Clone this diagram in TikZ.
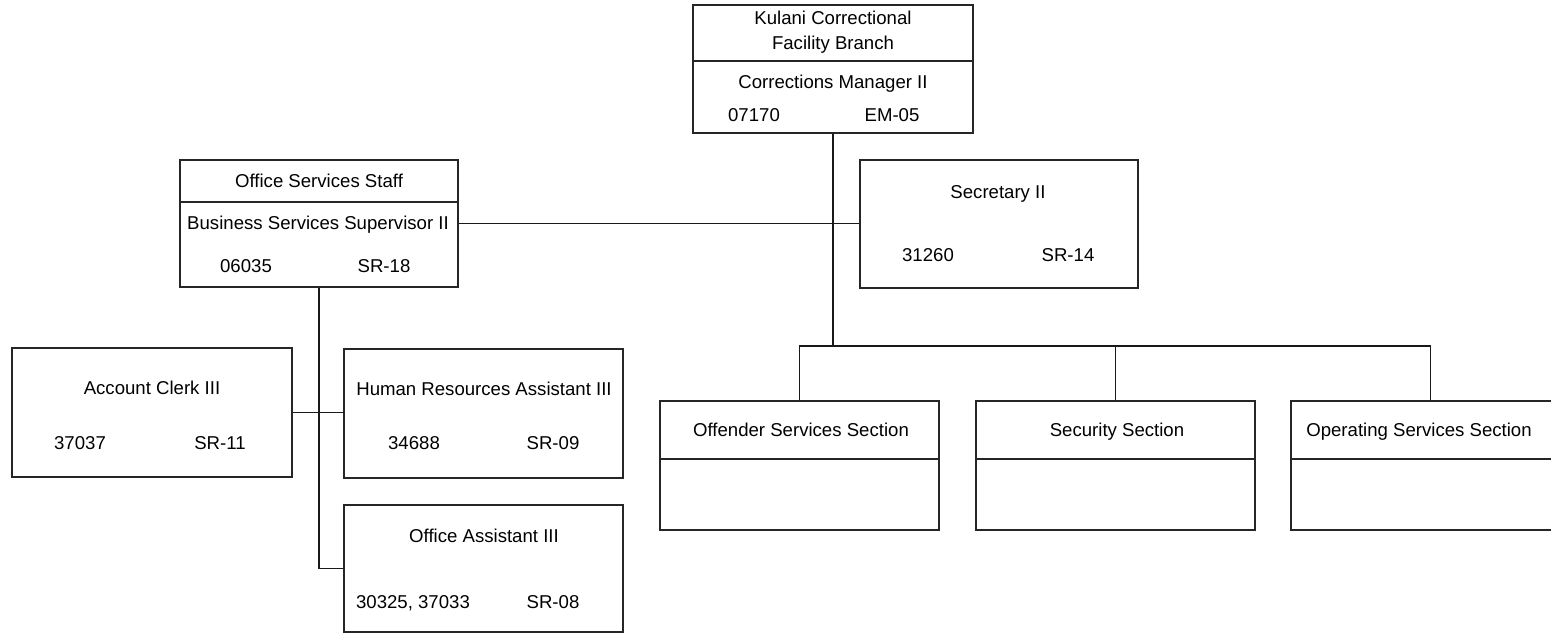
\documentclass[tikz,border=0pt]{standalone}
\usepackage{fontspec}
\setmainfont{Liberation Sans}
\begin{document}
\begin{tikzpicture}[x=1pt,y=-1pt,
  box/.style={draw=black!85, line width=1.8pt, rectangle, inner sep=0pt, minimum width=279pt, minimum height=128pt},
  divider/.style={draw=black!85, line width=2.8pt},
  link/.style={draw=black!90, line width=1.8pt},
  lbl/.style={inner sep=0pt, text height=13.2pt, text depth=3.9pt, font=\fontsize{18.6}{22}\selectfont, text=black}]
\path[use as bounding box, clip] (0,0) rectangle (1551,634);
\fill[white] (0,0) rectangle (1551,634);
% boxes
\node[box, minimum width=280pt] (top) at (833,69) {};
\node[box, minimum width=278pt, minimum height=127pt] (office) at (319,223.5) {};
\node[box, minimum width=278pt] (sec) at (999,224) {};
\node[box, minimum width=280pt, minimum height=129pt] (acct) at (152,412.5) {};
\node[box, minimum height=129pt] (hr) at (483.5,413.5) {};
\node[box, minimum height=127pt] (oa) at (483.5,568.5) {};
\node[box, minimum height=129pt] (off) at (799.5,465.5) {};
\node[box, minimum height=129pt] (secu) at (1115.5,465.5) {};
\node[box, minimum height=129pt] (oper) at (1430.5,465.5) {};
% dividers
\draw[divider] (top.west |- 0,61) -- (top.east |- 0,61);
\draw[divider] (office.west |- 0,202) -- (office.east |- 0,202);
\foreach \b in {off,secu,oper} \draw[divider] (\b.west |- 0,459) -- (\b.east |- 0,459);
% texts
\node[lbl] (t1) at (833,20) {Kulani Correctional};
\node[lbl] (t2) at (833,45) {Facility Branch};
\node[lbl] (t3) at (833,84) {Corrections Manager II};
\node[lbl] (t4) at (754,117) {07170};
\node[lbl] (t5) at (892,117) {EM-05};
\node[lbl] (o1) at (319,183) {Office Services Staff};
\node[lbl] (o2) at (318,225) {Business Services Supervisor II};
\node[lbl] (o3) at (246,268) {06035};
\node[lbl] (o4) at (384,268) {SR-18};
\node[lbl] (s1) at (998,194) {Secretary II};
\node[lbl] (s2) at (928,257) {31260};
\node[lbl] (s3) at (1068,257) {SR-14};
\node[lbl] (a1) at (152,390) {Account Clerk III};
\node[lbl] (a2) at (80,445) {37037};
\node[lbl] (a3) at (220,445) {SR-11};
\node[lbl] (h1) at (484,391) {Human Resources Assistant III};
\node[lbl] (h2) at (414,445) {34688};
\node[lbl] (h3) at (553,445) {SR-09};
\node[lbl] (q1) at (484,538) {Office Assistant III};
\node[lbl] (q2) at (413,604) {30325, 37033};
\node[lbl] (q3) at (553,604) {SR-08};
\node[lbl] (f1) at (801,432) {Offender Services Section};
\node[lbl] (f2) at (1117,432) {Security Section};
\node[lbl] (f3) at (1419,432) {Operating Services Section};
% connectors
\coordinate (bus) at (833,346);
\draw[link] (top.south) -- (bus);
\draw[link] (off.north) -- (off.north |- bus) -- (oper.north |- bus) -- (oper.north);
\draw[link] (secu.north) -- (secu.north |- bus);
\draw[link] (office.east) -- (office.east -| sec.west);
\coordinate (lj) at (office.south |- oa.west);
\draw[link] (office.south) -- (lj) -- (oa.west);
\draw[link] (acct.east) -- (acct.east -| hr.west);
\end{tikzpicture}
\end{document}
